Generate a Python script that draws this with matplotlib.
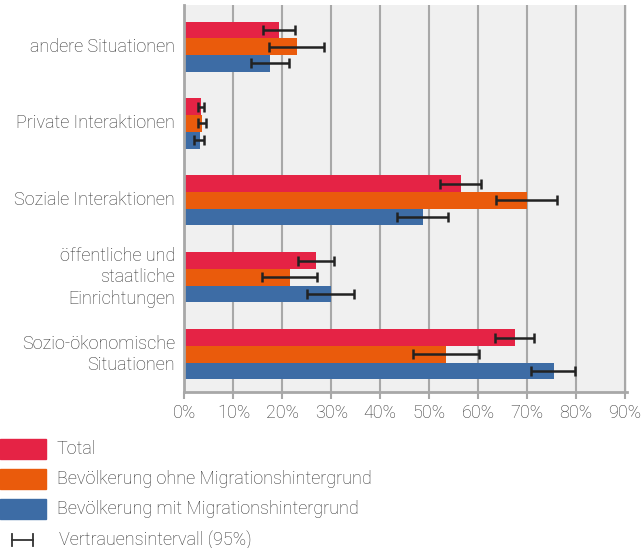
import matplotlib
matplotlib.use("Agg")
import matplotlib.pyplot as plt
from matplotlib.patches import Rectangle
from matplotlib.lines import Line2D
import matplotlib.transforms as mtransforms
import numpy as np

plt.rcParams['font.family'] = ['Roboto', 'DejaVu Sans']

categories = ["andere Situationen", "Private Interaktionen", "Soziale Interaktionen",
              "öffentliche und\nstaatliche\nEinrichtungen", "Sozio-ökonomische\nSituationen"]
series_names = ["Total", "Bevölkerung ohne Migrationshintergrund", "Bevölkerung mit Migrationshintergrund"]
total = [19.3, 3.4, 56.5, 26.9, 67.6]
total_lo = [16.1, 2.7, 52.2, 23.1, 63.4]
total_hi = [22.6, 4.0, 60.5, 30.5, 71.3]
ohne = [23.0, 3.6, 70.0, 21.6, 53.5]
ohne_lo = [17.2, 2.7, 63.6, 15.8, 46.6]
ohne_hi = [28.5, 4.4, 76.2, 27.0, 60.1]
mit = [17.5, 3.2, 48.8, 30.0, 75.4]
mit_lo = [13.5, 1.9, 43.5, 25.1, 70.7]
mit_hi = [21.4, 4.0, 53.9, 34.7, 79.8]
xticks = [0, 10, 20, 30, 40, 50, 60, 70, 80, 90]
legend_ci = "Vertrauensintervall (95%)"

colors = ["#e52345", "#ea5b0c", "#3d6ca5"]
FS = 13
TXT = "#333333"
W, H = 643, 548
fig = plt.figure(figsize=(W / 100, H / 100), dpi=100)
ax = fig.add_axes([184 / W, 1 - 392 / H, (627 - 184) / W, (392 - 5) / H])
ax.set_facecolor("#f0f0f0")

y = np.arange(len(categories))
bh = 0.217
data = [(total, total_lo, total_hi), (ohne, ohne_lo, ohne_hi), (mit, mit_lo, mit_hi)]
for i, (vals, lo, hi) in enumerate(data):
    yy = y + (i - 1) * bh
    ax.barh(yy, vals, height=bh, color=colors[i], zorder=2)
    mid = [(a + b) / 2 for a, b in zip(lo, hi)]
    err = [(b - a) / 2 for a, b in zip(lo, hi)]
    ax.errorbar(mid, yy, xerr=err, fmt="none", ecolor="#222222", elinewidth=1.8,
                capsize=3.5, capthick=1.8, zorder=3)

ax.set_ylim(4.49, -0.54)
ax.set_xlim(-0.1, 90.4)
ax.set_xticks(xticks)
ax.set_xticklabels([f"{t}%" for t in xticks])
ax.set_yticks(y)
ax.set_yticklabels([])
ax.grid(axis="x", color="#a8a8a8", linewidth=1.5, zorder=1)
ax.set_axisbelow(True)
for s in ["top", "right"]:
    ax.spines[s].set_visible(False)
for s in ["left", "bottom"]:
    ax.spines[s].set_color("#a8a8a8")
    ax.spines[s].set_linewidth(2)
ax.tick_params(axis="x", colors="#a8a8a8", length=5, width=1.5, labelcolor=TXT,
               labelsize=FS, pad=4)
ax.tick_params(axis="y", length=0)
for lab in ax.get_xticklabels():
    lab.set_fontweight("light")

# category labels, right aligned (multi-line too)
trans = mtransforms.blended_transform_factory(ax.transAxes, ax.transData)
offset = mtransforms.ScaledTranslation(-9 / 100, 0, fig.dpi_scale_trans)
for yi, cat in zip(y, categories):
    ax.text(0, yi, cat, transform=trans + offset, ha="right", va="center",
            multialignment="right", fontsize=FS, color=TXT, fontweight="light",
            linespacing=1.25)

# Legend
def fy(py):
    return 1 - py / H

rows = [449, 479, 509]
for c, name, py in zip(colors, series_names, rows):
    fig.add_artist(Rectangle((0, fy(py + 10)), 46 / W, 20 / H, transform=fig.transFigure,
                             color=c, clip_on=False))
    fig.text(57 / W, fy(py), name, va="center", ha="left", fontsize=FS,
             color=TXT, fontweight="light")
py = 540
fig.add_artist(Line2D([12 / W, 33 / W], [fy(py), fy(py)], transform=fig.transFigure,
                      color="#333333", linewidth=1.3))
for xx in (12, 33):
    fig.add_artist(Line2D([xx / W, xx / W], [fy(py - 6), fy(py + 6)], transform=fig.transFigure,
                          color="#333333", linewidth=1.3))
fig.text(59 / W, fy(py), legend_ci, va="center", ha="left", fontsize=FS,
         color=TXT, fontweight="light")

fig.savefig("out.png", dpi=100)
